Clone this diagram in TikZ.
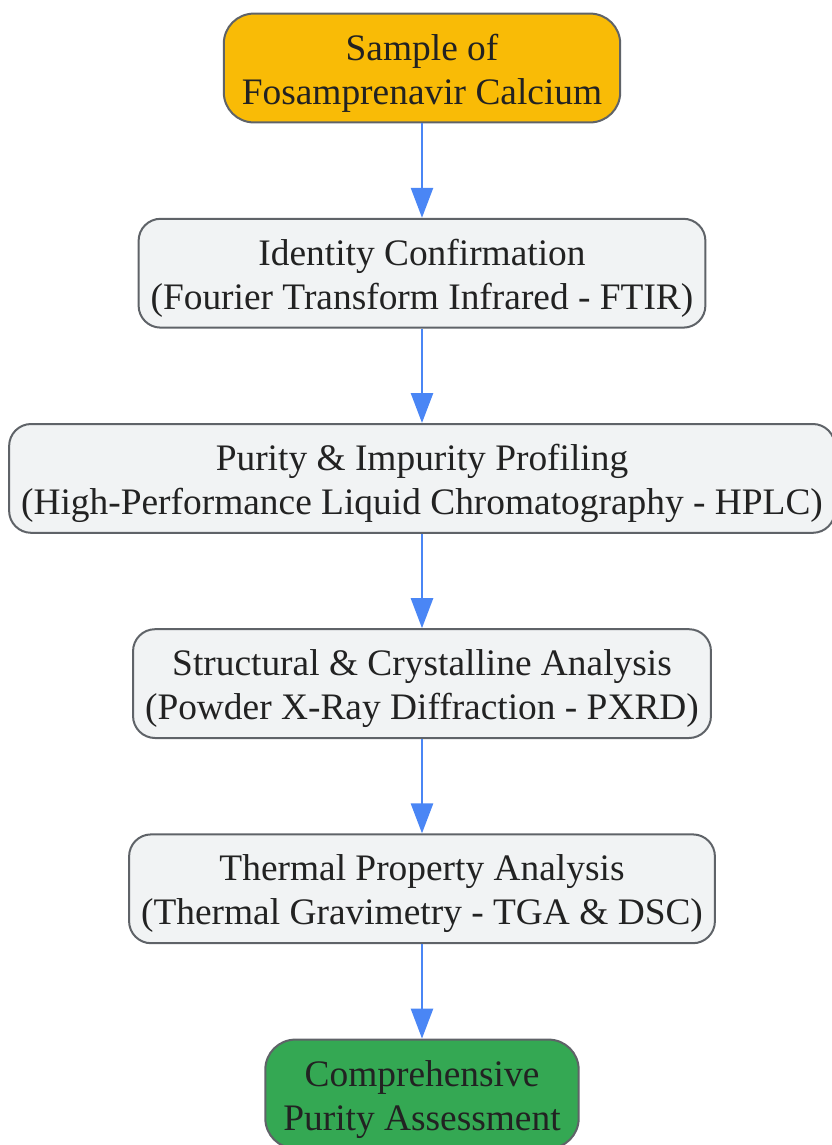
\documentclass[tikz,border=0pt]{standalone}
\usepackage{fontspec}
\setmainfont{Liberation Serif}
\usetikzlibrary{arrows.meta,positioning}
\definecolor{boxgray}{HTML}{F1F3F4}
\definecolor{edgegray}{HTML}{5F6368}
\definecolor{startorange}{HTML}{F9BB06}
\definecolor{endgreen}{HTML}{34A853}
\definecolor{flowblue}{HTML}{4A86F5}
\definecolor{textdark}{HTML}{222222}
\newcommand{\topstrut}{\rule{0pt}{0.97em}}
\tikzset{
  stepbox/.style={draw=edgegray, line width=0.05cm, fill=boxgray, rounded corners=0.55cm,
    align=center, minimum height=2.72cm, inner xsep=0.3cm,
    font=\fontsize{26.6}{31.3}\selectfont, text=textdark},
  endbox/.style={stepbox, rounded corners=0.75cm, inner xsep=0.45cm},
  flow/.style={-{Triangle[width=0.55cm,length=0.75cm]}, line width=0.065cm, draw=flowblue}
}

\begin{document}
\begin{tikzpicture}[node distance=2.36cm]
\useasboundingbox (0,0) rectangle (20.775,-28.625);
\node (sample) at (10.55, -1.7) [endbox, fill=startorange] {\topstrut Sample of\\Fosamprenavir Calcium};
\node (ftir) [stepbox, below=of sample] {\topstrut Identity Confirmation\\(Fourier Transform Infrared - FTIR)};
\node (hplc) [stepbox, below=of ftir] {\topstrut Purity \& Impurity Profiling\\(High-Performance Liquid Chromatography - HPLC)};
\node (pxrd) [stepbox, below=of hplc] {\topstrut Structural \& Crystalline Analysis\\(Powder X-Ray Diffraction - PXRD)};
\node (tga) [stepbox, below=of pxrd] {\topstrut Thermal Property Analysis\\(Thermal Gravimetry - TGA \& DSC)};
\node (result) [endbox, fill=endgreen, below=of tga] {\topstrut Comprehensive\\Purity Assessment};
\draw[flow] (sample) -- (ftir);
\draw[flow] (ftir) -- (hplc);
\draw[flow] (hplc) -- (pxrd);
\draw[flow] (pxrd) -- (tga);
\draw[flow] (tga) -- (result);
\end{tikzpicture}
\end{document}
